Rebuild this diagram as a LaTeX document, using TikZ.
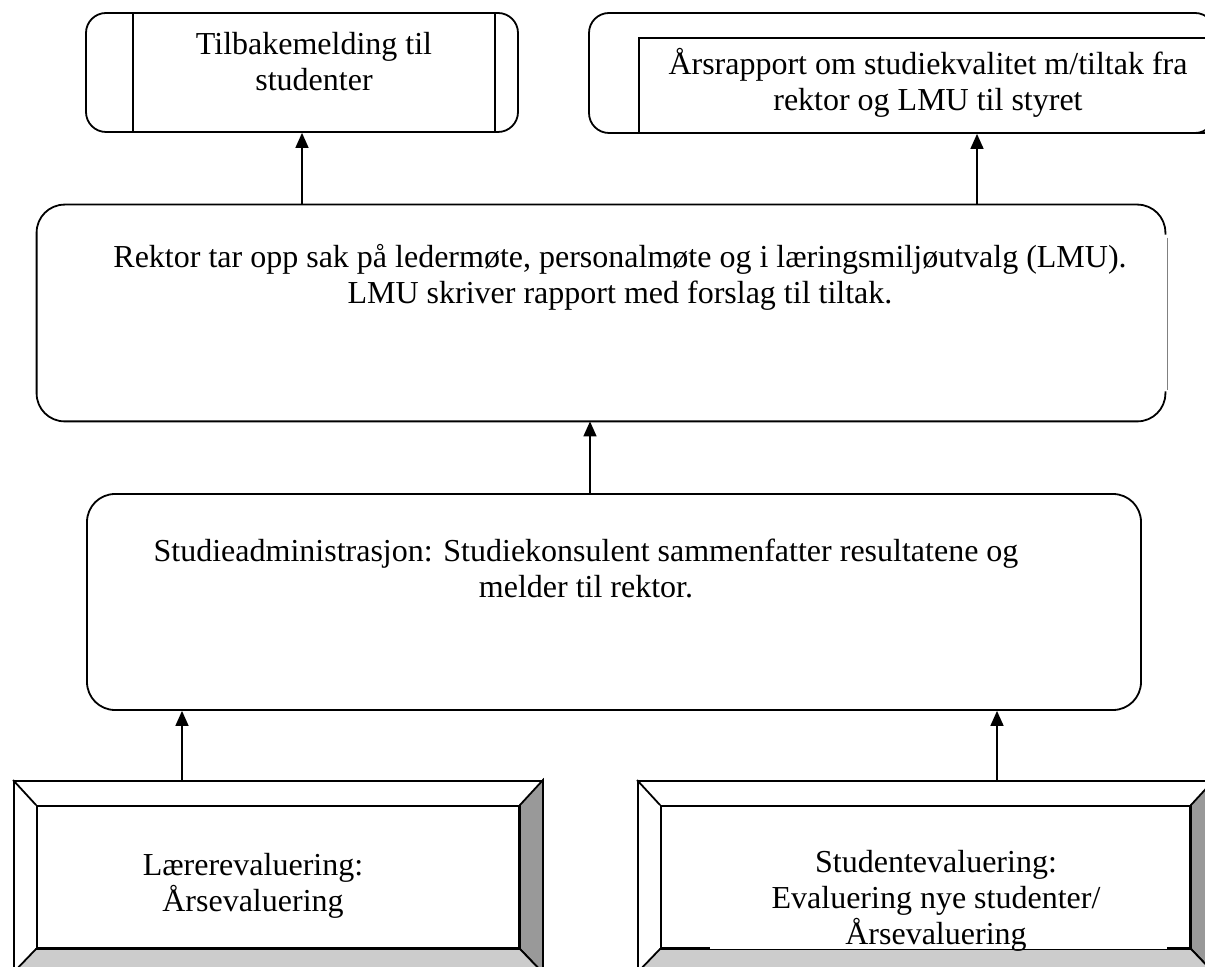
\documentclass[tikz,border=0pt]{standalone}
\usepackage{fontspec}
\setmainfont{Liberation Serif}
\usetikzlibrary{arrows.meta,positioning}
\definecolor{bevdark}{RGB}{153,153,153}
\definecolor{bevlight}{RGB}{204,204,204}

\begin{document}
\begin{tikzpicture}[x=0.5pt,y=-0.5pt,
  box/.style={draw, line width=0.9pt, inner sep=0pt},
  rbox/.style={box, rounded corners=10pt},
  txt/.style={align=center, font=\fontsize{16}{18}\selectfont, inner sep=0pt},
  arr/.style={-{Triangle[length=7.5pt,width=6.5pt]}, line width=0.75pt}]
\clip (0,0) rectangle (1205,967);
% Top boxes
\node[rbox, minimum width=216pt, minimum height=59.5pt] (tilbake) at (302,72.5) {};
\draw[line width=0.9pt] ([xshift=24pt]tilbake.north west) -- ([xshift=24pt]tilbake.south west);
\draw[line width=0.9pt] ([xshift=-12pt]tilbake.north east) -- ([xshift=-12pt]tilbake.south east);
\node[txt] (tilbaketxt) at (314,62) {Tilbakemelding til\\studenter};
\node[rbox, minimum width=313pt, minimum height=60pt] (aars) at (902,73) {};
\node[box, minimum width=300.5pt, minimum height=47.5pt] (aarsinner) at (939.5,85.5) {};
\node[txt] (aarstxt) at (928,83) {Årsrapport om studiekvalitet m/tiltak fra\\rektor og LMU til styret};
% Rektor
\node[inner sep=0pt, minimum width=564pt, minimum height=108pt] (rektor) at (601,313) {};
\draw[line width=0.9pt, rounded corners=14pt] ([yshift=-15pt]rektor.north east) -- (rektor.north east)
  -- (rektor.north west) -- (rektor.south west) -- (rektor.south east) -- ([yshift=15pt]rektor.south east);
\draw[gray, line width=0.4pt] ([xshift=1pt,yshift=-16.5pt]rektor.north east) -- ([xshift=1pt,yshift=15.5pt]rektor.south east);
\node[txt] (rektortxt) at (620,277) {Rektor tar opp sak på ledermøte, personalmøte og i læringsmiljøutvalg (LMU).\\LMU skriver rapport med forslag til tiltak.};
% Studieadministrasjon
\node[box, rounded corners=14pt, minimum width=527pt, minimum height=108pt] (admin) at (614,602) {};
\node[txt] (admintxt) at (586,568) {Studieadministrasjon: Studiekonsulent sammenfatter resultatene og\\melder til rektor.};
% Evalueringer
\node[box, minimum width=264pt, minimum height=95.5pt] (laererout) at (278,876.5) {};
\node[box, minimum width=241pt, minimum height=71pt] (laerer) at (278,877) {};
\node[box, minimum width=287.5pt, minimum height=95.5pt] (studentout) at (925.5,876.5) {};
\node[box, minimum width=264.5pt, minimum height=71pt] (student) at (925.5,877) {};
\foreach \b in {laerer,student}{
  \filldraw[line width=0.9pt, fill=bevdark] (\b out.north east) -- (\b out.south east) -- (\b.south east) -- (\b.north east) -- cycle;
  \filldraw[line width=0.9pt, fill=bevlight] (\b out.south west) -- (\b out.south east) -- (\b.south east) -- (\b.south west) -- cycle;
  \draw[line width=0.9pt] (\b out.north west) -- (\b.north west);
}
\draw[white, line width=1.2pt] (710,948) -- (1167,948);
\node[txt] (laerertxt) at (253,886) {Lærerevaluering:\\Årsevaluering};
\node[txt] (studenttxt) at (936,901) {Studentevaluering:\\Evaluering nye studenter/\\Årsevaluering};
% Piler
\coordinate (p1) at (977,0);
\coordinate (p2) at (590,0);
\coordinate (p3) at (182,0);
\coordinate (p4) at (997,0);
\draw[arr] (tilbake.south |- rektor.north) -- (tilbake.south);
\draw[arr] (rektor.north -| p1) -- (aars.south -| p1);
\draw[arr] (admin.north -| p2) -- (rektor.south -| p2);
\draw[arr] (laererout.north -| p3) -- (admin.south -| p3);
\draw[arr] (studentout.north -| p4) -- (admin.south -| p4);
\end{tikzpicture}
\end{document}
